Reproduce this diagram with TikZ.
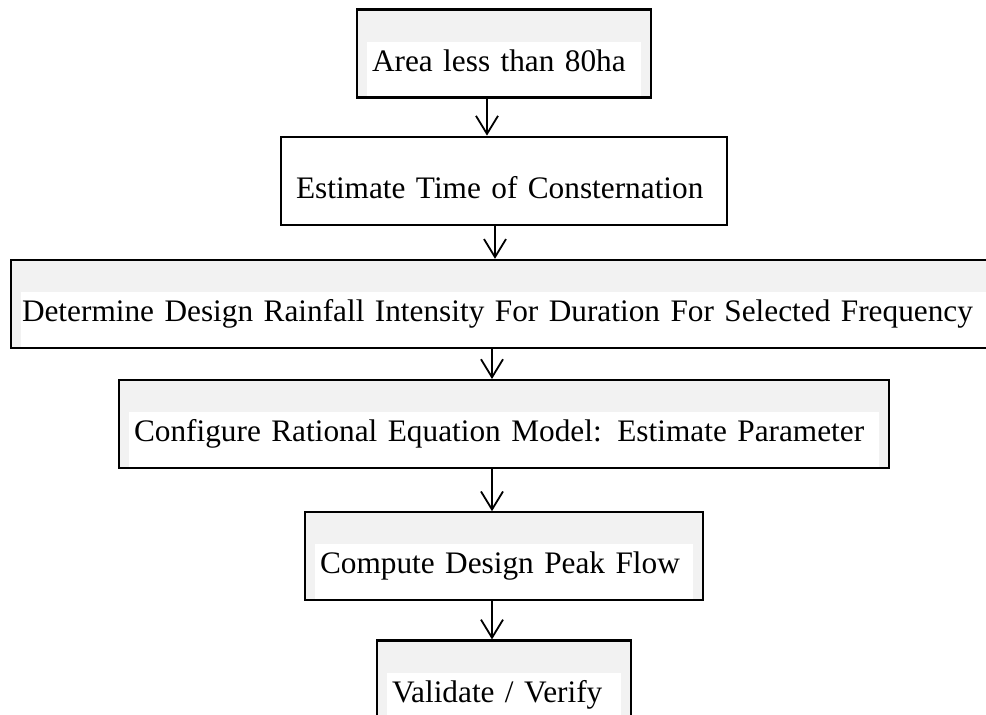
\documentclass[tikz,border=0pt]{standalone}
\usepackage{fontspec}
\setmainfont{Liberation Serif}
\usepackage{xcolor}
\usetikzlibrary{positioning, arrows.meta}
\definecolor{boxgray}{HTML}{F2F2F2}

\begin{document}
\begin{tikzpicture}[node distance=36pt]
\tikzstyle{process} = [rectangle, draw=black, line width=2.2pt, fill=boxgray, inner xsep=15pt, inner ysep=0pt, text height=61.5pt, text depth=26.5pt, align=left, font=\fontsize{31.3}{36}\selectfont, path picture={\fill[white] ([xshift=10pt]path picture bounding box.south west) rectangle ([xshift=-10pt,yshift=-32pt]path picture bounding box.north east);}]
\tikzstyle{plain} = [process, fill=white, path picture={}]
\tikzstyle{arrow} = [line width=1.8pt, -{Straight Barb[length=18pt,width=22pt]}]

\useasboundingbox (0,0) rectangle (986pt,-715pt);

\node (areaCheck) [process, text width=264pt] at (504pt,-53.5pt) {Area less than 80ha};
\node (estimateTc) [plain, text width=416pt, below=37pt of areaCheck] {Estimate Time of Consternation};
\node (rainIntensity) [process, inner xsep=11pt, text width=964pt, below=33pt of estimateTc] {Determine Design Rainfall Intensity For Duration For Selected Frequency};
\node (configModel) [process, text width=740pt, below=30pt of rainIntensity] {Configure Rational Equation Model: Estimate Parameter};
\node (peakFlow) [process, text width=368pt, below=42pt of configModel] {Compute Design Peak Flow};
\node (validate) [process, text width=224pt, below=38pt of peakFlow] {Validate / Verify};

\draw [arrow] ([xshift=-17pt]areaCheck.south) -- ([xshift=-17pt]estimateTc.north);
\draw [arrow] ([xshift=-9pt]estimateTc.south) -- ([xshift=-9pt]rainIntensity.north);
\draw [arrow] ([xshift=-12pt]rainIntensity.south) -- ([xshift=-12pt]configModel.north);
\draw [arrow] ([xshift=-12pt]configModel.south) -- ([xshift=-12pt]peakFlow.north);
\draw [arrow] ([xshift=-12pt]peakFlow.south) -- ([xshift=-12pt]validate.north);

\end{tikzpicture}
\end{document}
